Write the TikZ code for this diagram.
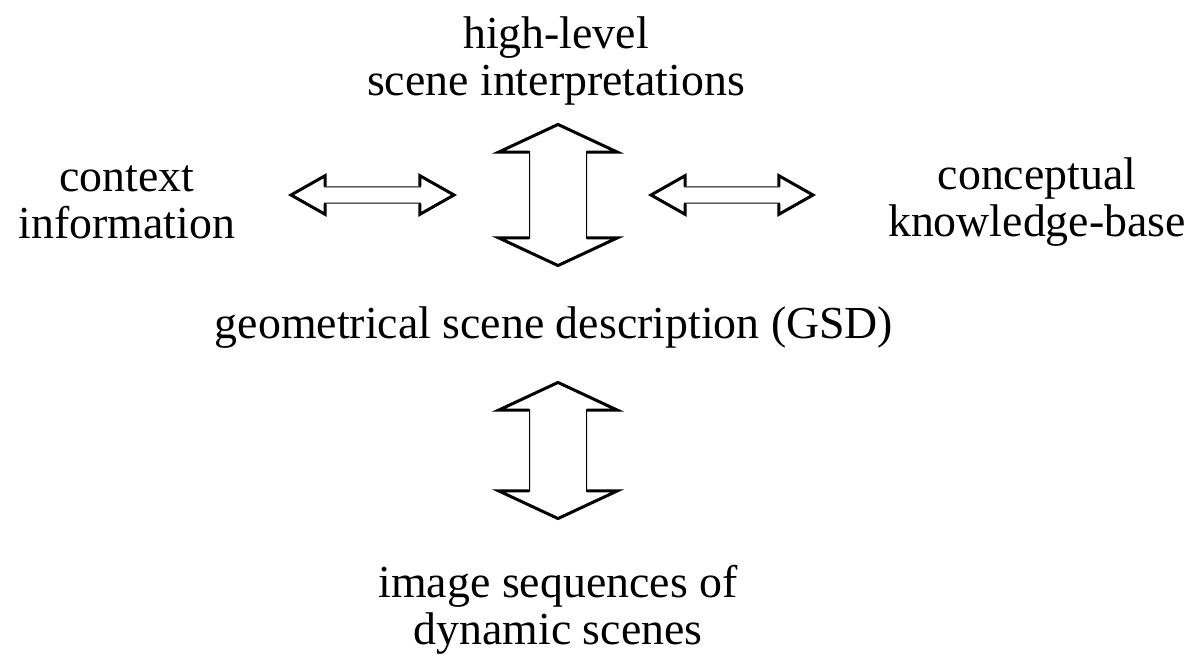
\documentclass[tikz,border=0pt]{standalone}
\usepackage{fontspec}
\setmainfont{Liberation Serif}
\usepackage{tikz}
\usetikzlibrary{shapes.arrows}

\tikzset{
  lbl/.style={font=\fontsize{46}{47}\selectfont, align=center, inner sep=0pt},
  vlink/.style={double arrow, draw, line width=1bp, rotate=90, inner xsep=0pt, inner ysep=28bp,
    double arrow head extend=28.5bp, double arrow tip angle=130},
  hlink/.style={double arrow, draw, line width=1bp, inner xsep=0pt, inner ysep=7.5bp,
    double arrow head extend=10.5bp, double arrow tip angle=59},
}
% thick outline on both heads of a link
\newcommand{\linkheads}[1]{%
  \draw[line width=3bp, line join=miter]
    (#1.before head 1) -- (#1.before tip 1) -- (#1.tip 1) -- (#1.after tip 1) -- (#1.after head 1);
  \draw[line width=3bp, line join=miter]
    (#1.before head 2) -- (#1.before tip 2) -- (#1.tip 2) -- (#1.after tip 2) -- (#1.after head 2);}

\begin{document}
\begin{tikzpicture}[x=1bp,y=-1bp]
    \useasboundingbox (0,0) rectangle (1189,664);

    \node[lbl] (hl)   at (556,61)  {high-level\\scene interpretations};
    \node[lbl] (ctx)  at (127,202) {context\\information};
    \node[lbl] (kb)   at (1037,202) {conceptual\\knowledge-base};
    \node[lbl] (gsd)  at (554,328) {geometrical scene description (GSD)};
    \node[lbl] (img)  at (558,610) {image sequences of\\dynamic scenes};

    % links between the levels
    \node[vlink, minimum height=140bp] (upLink)   at (558,195)   {};
    \node[vlink, minimum height=135bp] (downLink) at (558,450.5) {};
    \node[hlink, minimum height=161bp] (ctxLink)  at (372.5,195) {};
    \node[hlink, minimum height=160bp] (kbLink)   at (732,195)   {};
    \linkheads{upLink} \linkheads{downLink} \linkheads{ctxLink} \linkheads{kbLink}
\end{tikzpicture}
\end{document}
